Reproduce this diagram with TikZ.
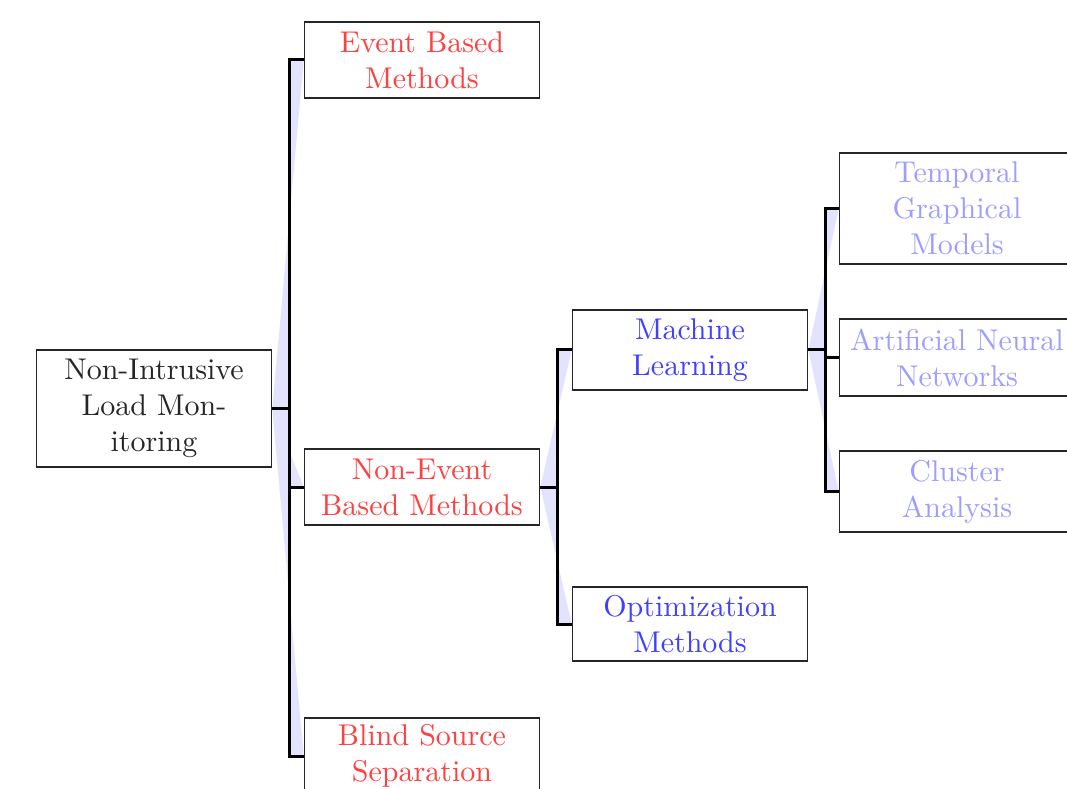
\documentclass[tikz,border=0pt]{standalone}
\usetikzlibrary{backgrounds,calc}
\begin{document}
\begin{tikzpicture}[x=0.33333pt,y=-0.33333pt,
  box/.style={draw=black!85, line width=0.55pt, fill=white, align=center, minimum width=78.3pt, inner sep=1pt, font=\normalsize},
  root/.style={box, text=black!85},
  lvlone/.style={box, text=red!75},
  lvltwo/.style={box, text=blue!75},
  lvlthree/.style={box, text=blue!38},
  forkline/.style={draw=black, line width=1pt, line join=miter},
  wedge/.style={fill=blue!11}]
\useasboundingbox (0,0) rectangle (1067,789);
\clip (0,0) rectangle (1067,789);
\node[root, minimum height=39pt] (nilm) at (154,408.5) {Non-Intrusive\\Load Mon-\\itoring};
\node[lvlone, minimum height=25.3pt] (event) at (422,60) {Event Based\\Methods};
\node[lvlone, minimum height=25.3pt] (nonevent) at (422,487) {Non-Event\\Based Methods};
\node[lvlone, minimum height=25.3pt] (bss) at (422,756) {Blind Source\\Separation};
\node[lvltwo, minimum height=26.7pt] (ml) at (690,350) {Machine\\Learning};
\node[lvltwo, minimum height=24.7pt] (opt) at (690,624) {Optimization\\Methods};
\node[lvlthree, minimum height=37pt] (tgm) at (957,208.5) {Temporal\\Graphical\\Models};
\node[lvlthree, minimum height=25.7pt] (ann) at (957,357.5) {Artificial Neural\\Networks};
\node[lvlthree, minimum height=27pt] (ca) at (957,491.5) {Cluster\\Analysis};
\begin{pgfonlayer}{background}
  \foreach \p/\c in {nilm/event, nilm/nonevent, nilm/bss, nonevent/ml, nonevent/opt, ml/tgm, ml/ann, ml/ca}{
    \fill[wedge] (\p.east) -- ([xshift=5.6pt]\p.east) |- (\c.west) -- cycle;
  }
  \foreach \p/\c in {nilm/event, nilm/nonevent, nilm/bss, nonevent/ml, nonevent/opt, ml/tgm, ml/ann, ml/ca}{
    \draw[forkline] (\p.east) -- ([xshift=5.6pt]\p.east) |- (\c.west);
  }
\end{pgfonlayer}
\end{tikzpicture}
\end{document}
